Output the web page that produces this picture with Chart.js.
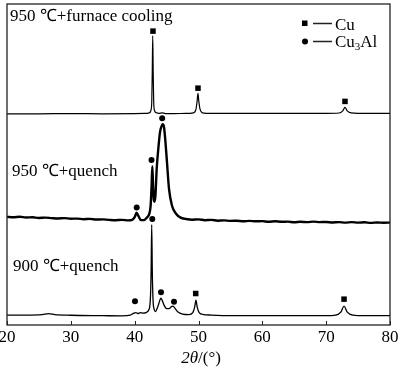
<!DOCTYPE html>
<html>
<head>
<meta charset="utf-8">
<script src="https://cdn.jsdelivr.net/npm/chart.js@4.4.1/dist/chart.umd.min.js"></script>
<style>
  html, body { margin: 0; padding: 0; background: #fff; }
  canvas { display: block; }
</style>
</head>
<body>
<canvas id="chart" width="400" height="369"></canvas>
<script>
// XRD patterns, 2theta (deg) vs intensity (a.u., curves stacked)
const xTickValues = [20, 30, 40, 50, 60, 70, 80];

// 950 C + furnace cooling
const furnaceX = [20, 25, 30, 35, 40, 41.5, 42.3, 42.55, 42.68, 42.76, 42.83, 42.9, 42.98, 43.1, 43.4, 43.8, 44.3, 44.8, 46, 48, 49.2, 49.6, 49.78, 49.92, 50.05, 50.25, 50.6, 52, 55, 60, 65, 70, 72, 72.6, 72.95, 73.3, 73.9, 75, 80];
const furnaceY = [65.8, 65.8, 65.85, 65.8, 65.85, 65.9, 66.1, 66.9, 69.7, 79.0, 90.1, 79.0, 69.7, 66.9, 66.1, 65.94, 66.1, 65.88, 65.88, 65.9, 66.07, 67.18, 69.66, 72.14, 69.66, 67.18, 66.1, 65.94, 65.94, 65.94, 65.94, 65.94, 66.04, 66.72, 67.8, 66.72, 66.07, 65.94, 65.94];

// 950 C + quench
const quench950X = [20, 21, 22, 23, 24, 25, 26, 27, 28, 29, 30, 31, 32, 33, 34, 35, 36, 37, 38, 39, 39.6, 40.0, 40.3, 40.6, 41.0, 41.4, 41.9, 42.3, 42.5, 42.65, 42.77, 42.88, 43.0, 43.1, 43.25, 43.45, 43.7, 43.97, 44.2, 44.39, 44.6, 44.8, 45.07, 45.38, 45.85, 46.48, 47.2, 48, 49, 50, 51, 52, 53, 54, 55, 56, 57, 58, 59, 60, 61, 62, 63, 64, 65, 66, 67, 68, 69, 70, 71, 72, 73, 74, 75, 76, 77, 78, 79, 80];
const quench950Y = [33.7, 33.55, 33.7, 33.5, 33.55, 33.35, 33.45, 33.3, 33.2, 33.3, 33.1, 33.15, 32.95, 33.05, 32.85, 32.9, 32.75, 32.65, 32.75, 32.6, 32.75, 33.59, 34.98, 33.9, 32.66, 32.66, 33.44, 34.7, 37.2, 43.3, 49.5, 43.3, 39.0, 38.4, 40.2, 48.6, 54.8, 60.1, 61.9, 62.54, 61.6, 57.6, 50.5, 42.4, 37.15, 34.67, 33.44, 33.05, 32.8, 32.9, 32.65, 32.75, 32.5, 32.6, 32.45, 32.5, 32.3, 32.45, 32.3, 32.35, 32.15, 32.3, 32.15, 32.2, 32.0, 32.15, 32.05, 32.2, 32.05, 32.1, 31.95, 32.05, 31.9, 32.05, 31.9, 32.0, 31.8, 31.95, 31.85, 31.9];

// 900 C + quench
const quench900X = [20, 23, 25.5, 26.5, 27.5, 30, 35, 38, 39.3, 39.9, 40.2, 40.5, 40.9, 41.3, 41.8, 42.2, 42.45, 42.58, 42.67, 42.76, 42.88, 43.05, 43.25, 43.6, 43.9, 44.1, 44.3, 44.6, 45.0, 45.4, 45.75, 46.0, 46.3, 46.8, 47.5, 48.5, 49.1, 49.4, 49.6, 49.8, 50.1, 50.8, 52, 55, 60, 65, 70, 71.5, 72.3, 72.8, 73.3, 74.2, 76, 80];
const quench900Y = [3.1, 3.1, 3.25, 3.56, 3.25, 3.03, 2.91, 2.85, 3.1, 3.72, 3.87, 3.56, 3.87, 3.72, 3.87, 4.64, 7.74, 17.0, 31.3, 17.0, 7.74, 4.95, 4.18, 5.57, 7.43, 8.36, 7.74, 6.19, 5.11, 5.11, 5.73, 5.88, 5.26, 4.02, 3.41, 3.25, 3.87, 5.57, 7.74, 5.57, 3.87, 3.25, 3.1, 2.94, 2.94, 2.94, 2.94, 3.1, 4.02, 5.88, 4.02, 3.1, 2.94, 2.94];

// phase markers above the peaks
const cuPeakX = [42.87, 49.92, 72.95, 49.56, 72.8];
const cuPeakY = [91.55, 73.78, 69.66, 9.81, 8.05];
const cu3AlPeakX = [40.32, 42.64, 44.31, 40.05, 42.76, 44.13, 46.16];
const cu3AlPeakY = [36.63, 51.39, 64.4, 7.43, 33.03, 10.22, 7.21];

const serif = "'Liberation Serif', 'Times New Roman', serif";

function toPoints(xs, ys) {
    return xs.map((x, i) => ({ x: x, y: ys[i] }));
}

function curve(xs, ys, width) {
    return {
        type: 'line',
        data: toPoints(xs, ys),
        borderColor: '#000',
        borderWidth: width,
        pointRadius: 0,
        cubicInterpolationMode: 'monotone',
        showLine: true
    };
}

// frame, inward ticks, labels, legend and axis title
const decorations = {
    id: 'decorations',
    afterDraw(chart) {
        const ctx = chart.ctx;
        const a = chart.chartArea;
        const xs = chart.scales.x;
        ctx.save();
        ctx.strokeStyle = '#222';
        ctx.lineWidth = 1.3;
        ctx.strokeRect(a.left, a.top, a.right - a.left, a.bottom - a.top);

        ctx.lineWidth = 1;
        ctx.beginPath();
        xTickValues.forEach(v => {
            const px = Math.round(xs.getPixelForValue(v)) + 0.5;
            ctx.moveTo(px, a.bottom);
            ctx.lineTo(px, a.bottom - 4);
        });
        ctx.stroke();

        ctx.fillStyle = '#000';
        ctx.textBaseline = 'alphabetic';
        ctx.textAlign = 'left';
        ctx.font = '17px ' + serif;
        ctx.fillText('950 ℃+furnace cooling', 10, 20.5);
        ctx.fillText('950 ℃+quench', 12, 175.5);
        ctx.fillText('900 ℃+quench', 13, 270.5);

        // legend
        ctx.fillRect(302, 20.5, 5.5, 5.5);
        ctx.beginPath();
        ctx.arc(305, 41.5, 3, 0, Math.PI * 2);
        ctx.fill();
        ctx.lineWidth = 1.3;
        ctx.beginPath();
        ctx.moveTo(313, 23.5);
        ctx.lineTo(332, 23.5);
        ctx.moveTo(313, 41.5);
        ctx.lineTo(332, 41.5);
        ctx.stroke();
        ctx.fillText('Cu', 335, 29.5);
        ctx.fillText('Cu', 335, 47);
        let w = ctx.measureText('Cu').width;
        ctx.font = '11px ' + serif;
        ctx.fillText('3', 335 + w, 50);
        const w3 = ctx.measureText('3').width;
        ctx.font = '17px ' + serif;
        ctx.fillText('Al', 335 + w + w3, 47);

        // axis title: 2θ/(°)
        ctx.font = 'italic 17px ' + serif;
        const t1 = '2θ';
        const w1 = ctx.measureText(t1).width;
        ctx.font = '17px ' + serif;
        const t2 = '/(°)';
        const w2 = ctx.measureText(t2).width;
        const start = 201 - (w1 + w2) / 2;
        ctx.font = 'italic 17px ' + serif;
        ctx.fillText(t1, start, 363);
        ctx.font = '17px ' + serif;
        ctx.fillText(t2, start + w1, 363);
        ctx.restore();
    }
};

new Chart(document.getElementById('chart'), {
    type: 'scatter',
    data: {
        datasets: [
            curve(furnaceX, furnaceY, 1.2),
            curve(quench950X, quench950Y, 2.4),
            curve(quench900X, quench900Y, 1.3),
            {
                data: toPoints(cuPeakX, cuPeakY),
                pointStyle: 'rect',
                pointRadius: 3.9,
                backgroundColor: '#000',
                borderWidth: 0
            },
            {
                data: toPoints(cu3AlPeakX, cu3AlPeakY),
                pointStyle: 'circle',
                pointRadius: 3,
                backgroundColor: '#000',
                borderWidth: 0
            }
        ]
    },
    options: {
        responsive: false,
        animation: false,
        devicePixelRatio: 1,
        layout: { padding: { left: 7, right: 10, top: 2, bottom: 0 } },
        plugins: {
            legend: { display: false },
            tooltip: { enabled: false }
        },
        scales: {
            x: {
                type: 'linear',
                min: 20,
                max: 80,
                grid: { display: false, drawTicks: false },
                border: { display: false },
                afterBuildTicks: scale => {
                    scale.ticks = xTickValues.map(v => ({ value: v }));
                },
                afterFit: scale => {
                    scale.height = 44;
                    scale.paddingLeft = 0;
                    scale.paddingRight = 0;
                },
                ticks: {
                    color: '#000',
                    padding: 2,
                    maxRotation: 0,
                    font: { family: serif, size: 17 }
                }
            },
            y: {
                type: 'linear',
                min: 0,
                max: 100,
                display: false
            }
        }
    },
    plugins: [decorations]
});
</script>
</body>
</html>
